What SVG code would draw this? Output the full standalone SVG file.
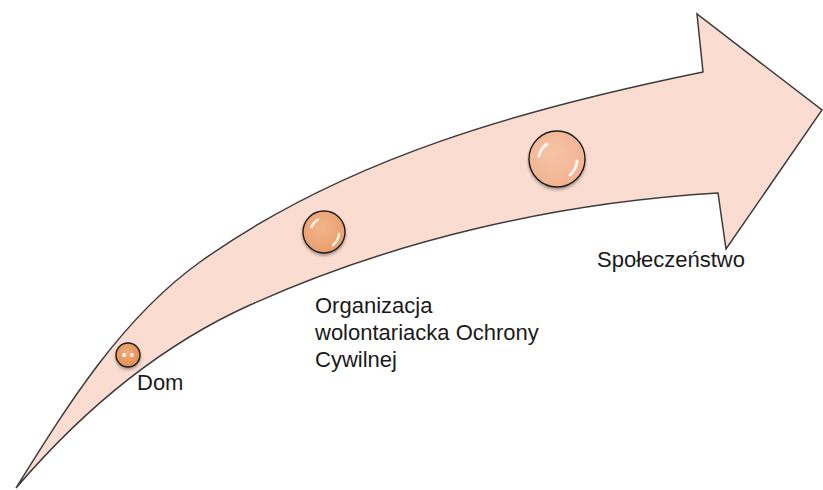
<svg xmlns="http://www.w3.org/2000/svg" width="823" height="490" viewBox="0 0 823 490">
  <defs>
    <style>
      .arrow { fill: #FADCD0; stroke: #3c3c3c; stroke-width: 1.5; stroke-linejoin: miter; }
      .dot { stroke: #1e1e1e; stroke-width: 1.4; filter: url(#shadow); }
      .hl { fill: none; stroke: #ffffff; stroke-linecap: round; opacity: 0.85; }
      .label { font-family: "Liberation Sans", Arial, sans-serif; font-size: 22px; fill: #1a1a1a; }
    </style>
    <radialGradient id="gSmall" cx="0.45" cy="0.4" r="0.65">
      <stop offset="0" stop-color="#EFAE7E"/>
      <stop offset="1" stop-color="#DE8C4E"/>
    </radialGradient>
    <radialGradient id="gMid" cx="0.45" cy="0.4" r="0.65">
      <stop offset="0" stop-color="#F2B48C"/>
      <stop offset="1" stop-color="#E99C6A"/>
    </radialGradient>
    <radialGradient id="gLarge" cx="0.45" cy="0.4" r="0.65">
      <stop offset="0" stop-color="#F6C3A6"/>
      <stop offset="1" stop-color="#F2B290"/>
    </radialGradient>
    <filter id="shadow" x="-30%" y="-30%" width="160%" height="170%">
      <feGaussianBlur in="SourceAlpha" stdDeviation="1.5"/>
      <feOffset dx="0" dy="2" result="b"/>
      <feComponentTransfer><feFuncA type="linear" slope="0.35"/></feComponentTransfer>
      <feMerge><feMergeNode/><feMergeNode in="SourceGraphic"/></feMerge>
    </filter>
  </defs>

  <g id="arrow">
    <path class="arrow" d="M 16,488 C 67.4,405.5 121.4,318.3 200,262 C 345.8,157.6 526.6,108 703,72 L 697,14 L 822,110 L 726,249 L 718,193 C 558,202.6 395.6,239.4 250,305 C 159.9,345.6 80.4,412.8 16,488 Z"/>
  </g>

  <g id="connectors"></g>

  <g id="node-dom">
    <circle class="dot" cx="128" cy="355" r="12" fill="url(#gSmall)"/>
    <circle cx="124" cy="355" r="2" fill="#ffffff" opacity="0.8"/>
    <circle cx="132" cy="355" r="2" fill="#ffffff" opacity="0.8"/>
    <text class="label" x="137" y="390">Dom</text>
  </g>

  <g id="node-organizacja">
    <circle class="dot" cx="324" cy="232" r="21" fill="url(#gMid)"/>
    <path class="hl" stroke-width="2.5" d="M 311.5,227 A 14,14 0 0 1 318,219.5"/>
    <path class="hl" stroke-width="2.5" d="M 339,234 A 16,16 0 0 1 333,245"/>
    <text class="label" x="315" y="313">Organizacja</text>
    <text class="label" x="315" y="340">wolontariacka Ochrony</text>
    <text class="label" x="315" y="367">Cywilnej</text>
  </g>

  <g id="node-spoleczenstwo">
    <circle class="dot" cx="557" cy="159" r="28" fill="url(#gLarge)"/>
    <path class="hl" stroke-width="3" d="M 539,156 A 19,19 0 0 1 547,144"/>
    <path class="hl" stroke-width="3" d="M 577,161 A 21,21 0 0 1 570,175"/>
    <text class="label" x="597" y="267">Społeczeństwo</text>
  </g>
</svg>
